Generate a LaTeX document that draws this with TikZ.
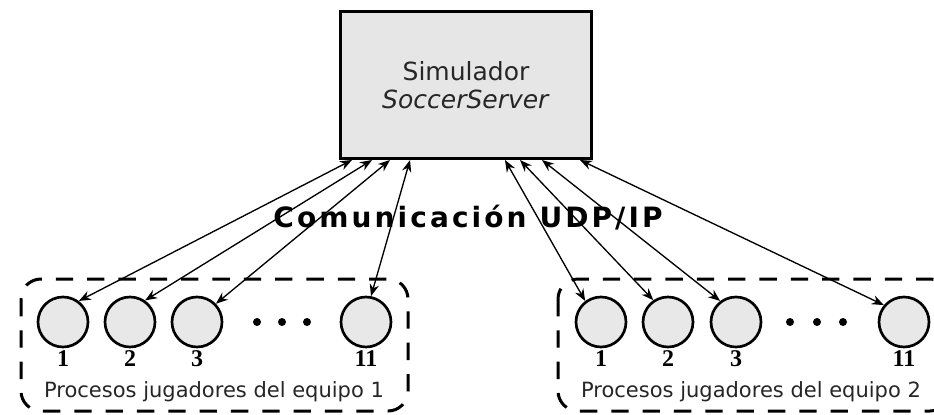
\documentclass[tikz,border=0pt]{standalone}
\usepackage{fontspec}
\usepackage{tikz}
\usetikzlibrary{arrows.meta,calc}
\setmainfont{DejaVu Sans}
\newfontfamily\numfont{Liberation Serif}
\newfontfamily\udpfont[LetterSpace=11]{DejaVu Sans Bold}
\definecolor{simGris}{HTML}{E6E6E6}
\definecolor{jugGris}{HTML}{E8E8E8}
\definecolor{simTexto}{HTML}{262626}
\tikzset{
  servidor/.style={rectangle,draw=black,line width=2.25pt,fill=simGris,inner sep=0pt,
    minimum width=188.25pt,minimum height=110.25pt,align=center,text=simTexto,
    font=\fontsize{18.75}{21}\selectfont},
  jugador/.style={circle,draw=black,line width=2pt,fill=jugGris,minimum size=37.5pt,inner sep=0pt},
  punto/.style={circle,fill=black,minimum size=6pt,inner sep=0pt},
  numero/.style={anchor=base,font=\numfont\bfseries\fontsize{18}{19}\selectfont},
  rotulo/.style={anchor=base,text=simTexto,font=\fontsize{15.75}{17}\selectfont},
  grupo/.style={draw=black,line width=2.25pt,dash pattern=on 13pt off 10.5pt,rounded corners=15pt},
  arrow/.style={{Stealth[length=9pt,width=7pt]}-{Stealth[length=9pt,width=7pt]},line width=1pt}
}

\begin{document}
\begin{tikzpicture}[x=0.75pt,y=-0.75pt]
  \useasboundingbox (0,0) rectangle (934,414);
  \clip (0,0) rectangle (934,414);

  % servidor
  \node[servidor] (sim) at (466,85) {Simulador\\\textit{SoccerServer}};

  % equipo 1
  \draw[grupo] (21,279) rectangle (408,411);
  \node[jugador] (a1) at (63,322) {};
  \node[jugador] (a2) at (130,322) {};
  \node[jugador] (a3) at (197,322) {};
  \node[punto] (ap1) at (257,322) {};
  \node[punto] (ap2) at (282,322) {};
  \node[punto] (ap3) at (307,322) {};
  \node[jugador] (a11) at (366,322) {};
  \node[numero] (na1) at (63,366) {1};
  \node[numero] (na2) at (130,366) {2};
  \node[numero] (na3) at (197,366) {3};
  \node[numero] (na11) at (366,366) {11};
  \node[rotulo] (ra) at (214,397) {Procesos jugadores del equipo 1};

  % equipo 2
  \draw[grupo] (558,279) rectangle (950,411);
  \node[jugador] (b1) at (601,322) {};
  \node[jugador] (b2) at (668,322) {};
  \node[jugador] (b3) at (736,322) {};
  \node[punto] (bp1) at (790,322) {};
  \node[punto] (bp2) at (817,322) {};
  \node[punto] (bp3) at (843,322) {};
  \node[jugador] (b11) at (904,322) {};
  \node[numero] (nb1) at (601,366) {1};
  \node[numero] (nb2) at (668,366) {2};
  \node[numero] (nb3) at (736,366) {3};
  \node[numero] (nb11) at (904,366) {11};
  \node[rotulo] (rb) at (751,397) {Procesos jugadores del equipo 2};

  % enlaces con el simulador
  \draw[arrow] ($(sim.south)+(-114,0)$) -- (a1.53);
  \draw[arrow] ($(sim.south)+(-94,0)$) -- (a2.55);
  \draw[arrow] ($(sim.south)+(-76,0)$) -- (a3.44);
  \draw[arrow] ($(sim.south)+(-56,0)$) -- (a11.79);
  \draw[arrow] ($(sim.south)+(39,0)$) -- (b1.127);
  \draw[arrow] ($(sim.south)+(54,0)$) -- (b2.124);
  \draw[arrow] ($(sim.south)+(76,0)$) -- (b3.127);
  \draw[arrow] ($(sim.south)+(114,0)$) -- (b11.140);

  \node[anchor=base,font=\udpfont\fontsize{21}{23}\selectfont] (udp) at (468,227) {Comunicación UDP/IP};
\end{tikzpicture}
\end{document}
